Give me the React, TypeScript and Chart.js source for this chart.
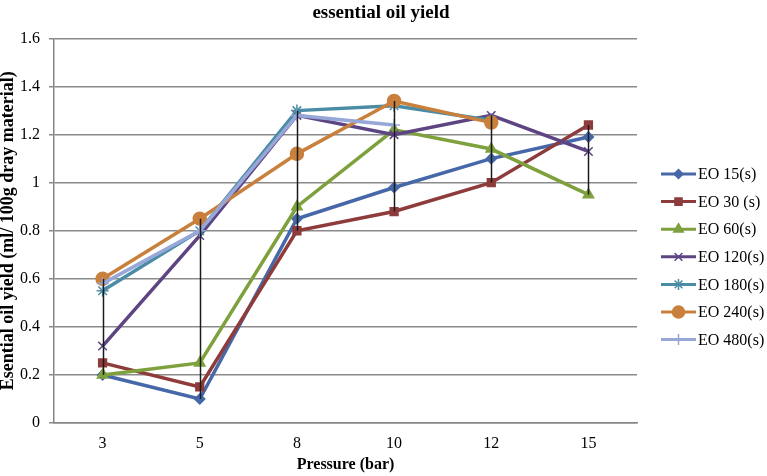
import React, { useEffect, useRef } from "react";
import { Chart, registerables } from "chart.js";
import { drawPoint } from "chart.js/helpers";

Chart.register(...registerables);

const categories = ["3", "5", "8", "10", "12", "15"];
const seriesNames = ["EO 15(s)", "EO 30 (s)", "EO 60(s)", "EO 120(s)", "EO 180(s)", "EO 240(s)", "EO 480(s)"];
const eo15 = [0.2, 0.1, 0.85, 0.98, 1.1, 1.19];
const eo30 = [0.25, 0.15, 0.8, 0.88, 1.0, 1.24];
const eo60 = [0.2, 0.25, 0.9, 1.22, 1.14, 0.95];
const eo120 = [0.32, 0.78, 1.28, 1.2, 1.28, 1.13];
const eo180 = [0.55, 0.8, 1.3, 1.32, 1.26, null];
const eo240 = [0.6, 0.85, 1.12, 1.34, 1.25, null];
const eo480 = [0.58, 0.8, 1.28, 1.24, null, null];
const yTicks = [0, 0.2, 0.4, 0.6, 0.8, 1, 1.2, 1.4, 1.6];
const chartTitle = "essential oil yield";

const seriesValues = [eo15, eo30, eo60, eo120, eo180, eo240, eo480];
const colors = ["#4668A8", "#8E3B3B", "#7EA13E", "#5D4584", "#4A8CA6", "#C8803C", "#97A7D8"];
const markers = ["rectRot", "rect", "triangle", "crossRot", "star", "circle", "cross"];
const markerRadius = [5, 5.5, 6, 6, 6, 6.5, 6];

const FONT = "'Liberation Serif', 'Times New Roman', serif";

const highLowPlugin = {
  id: "highLow",
  afterDatasetsDraw(chart: any) {
    const { ctx, scales } = chart;
    const x = scales.x;
    const y = scales.y;
    ctx.save();
    ctx.strokeStyle = "#1a1a1a";
    ctx.lineWidth = 1.5;
    categories.forEach((_, i) => {
      const vals = seriesValues.map((s) => s[i]).filter((v) => v !== null && v !== undefined) as number[];
      if (!vals.length) return;
      const hi = Math.max(...vals);
      const lo = Math.min(...vals);
      const px = Math.round(x.getPixelForValue(i)) + 0.5;
      ctx.beginPath();
      ctx.moveTo(px, y.getPixelForValue(hi));
      ctx.lineTo(px, y.getPixelForValue(lo));
      ctx.stroke();
    });
    ctx.restore();
  },
};

const titleAndLegendPlugin = {
  id: "customLegend",
  afterDraw(chart: any) {
    const { ctx } = chart;
    ctx.save();
    ctx.fillStyle = "#000";
    ctx.font = "bold 19px " + FONT;
    ctx.textAlign = "center";
    ctx.textBaseline = "middle";
    ctx.fillText(chartTitle, 381, 13);

    const x0 = 661;
    const x1 = 696;
    const yStart = 174;
    const step = 27.6;
    seriesNames.forEach((name, i) => {
      const yy = yStart + i * step;
      ctx.strokeStyle = colors[i];
      ctx.lineWidth = 3;
      ctx.beginPath();
      ctx.moveTo(x0, yy);
      ctx.lineTo(x1, yy);
      ctx.stroke();
      ctx.fillStyle = colors[i];
      ctx.strokeStyle = colors[i];
      ctx.lineWidth = 1.5;
      drawPoint(ctx, { pointStyle: markers[i], radius: markerRadius[i] - 0.5, borderWidth: 1.5, rotation: 0 } as any, (x0 + x1) / 2, yy);
      ctx.fillStyle = "#000";
      ctx.font = "16px " + FONT;
      ctx.textAlign = "left";
      ctx.textBaseline = "middle";
      ctx.fillText(name, x1 + 2, yy + 1);
    });
    ctx.restore();
  },
};

export default function App() {
  const ref = useRef<HTMLCanvasElement | null>(null);
  useEffect(() => {
    if (!ref.current) return;
    const chart = new Chart(ref.current, {
      type: "line",
      data: {
        labels: categories,
        datasets: seriesValues.map((vals, i) => ({
          label: seriesNames[i],
          data: vals,
          borderColor: colors[i],
          backgroundColor: colors[i],
          pointBackgroundColor: colors[i],
          pointBorderColor: colors[i],
          pointStyle: markers[i] as any,
          pointRadius: markerRadius[i],
          pointBorderWidth: 1.5,
          borderWidth: 3.5,
          tension: 0,
          spanGaps: false,
          order: seriesValues.length - i,
        })),
      },
      options: {
        animation: false,
        responsive: false,
        maintainAspectRatio: false,
        layout: { padding: { top: 38.5, right: 130, left: 0, bottom: 0 } },
        plugins: {
          legend: { display: false },
          tooltip: { enabled: false },
          title: { display: false },
        },
        scales: {
          x: {
            offset: true,
            grid: { display: false, drawTicks: false },
            border: { display: true, color: "#868686", width: 1.5 },
            ticks: { color: "#000", font: { family: FONT, size: 16 }, padding: 11, maxRotation: 0 },
            title: {
              display: true,
              text: "Pressure (bar)",
              color: "#000",
              font: { family: FONT, size: 16, weight: "bold" },
              padding: { top: 0, bottom: 2 },
            },
            afterFit: (s: any) => {
              s.height = 53;
            },
          },
          y: {
            min: 0,
            max: 1.6,
            afterBuildTicks: (s: any) => {
              s.ticks = yTicks.map((v) => ({ value: v }));
            },
            grid: { color: "#8A8A8A", lineWidth: 1.5, tickLength: 5, drawTicks: true },
            border: { display: true, color: "#868686", width: 1.5 },
            ticks: {
              color: "#000",
              font: { family: FONT, size: 16 },
              padding: 9,
              callback: (v: any) => String(Math.round(Number(v) * 10) / 10),
            },
            title: {
              display: true,
              text: "Esential oil yield (ml/ 100g dray material)",
              color: "#000",
              font: { family: FONT, size: 18, weight: "bold" },
              padding: { top: -2, bottom: 0 },
            },
            afterFit: (s: any) => {
              s.width = 54;
            },
          },
        },
      },
      plugins: [highLowPlugin, titleAndLegendPlugin],
    });
    return () => chart.destroy();
  }, []);
  return (
    <div style={{ position: "fixed", left: 0, top: 0, width: 767, height: 476, background: "#fff" }}>
      <canvas ref={ref} width={767} height={476} style={{ width: 767, height: 476, display: "block" }} />
    </div>
  );
}
